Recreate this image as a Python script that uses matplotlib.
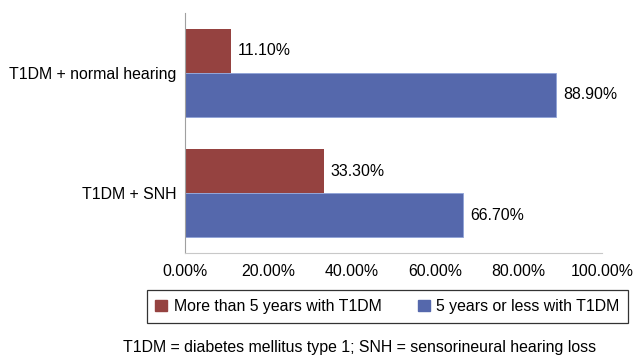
import numpy as np
import matplotlib.pyplot as plt
from matplotlib.patches import Patch

plt.rcParams['font.family'] = ['Liberation Sans', 'DejaVu Sans']

groups = ['T1DM + SNH', 'T1DM + normal hearing']
more_than_5 = [33.3, 11.1]
five_or_less = [66.7, 88.9]
series_names = ['More than 5 years with T1DM', '5 years or less with T1DM']
xticks = [0, 20, 40, 60, 80, 100]

red = '#954240'
blue = '#5568AC'
fs = 11.4

fig = plt.figure(figsize=(6.33, 3.58), dpi=100)
ax = fig.add_axes([0.292, 0.293, 0.659, 0.671])

y = np.arange(len(groups))
h = 0.367
ax.barh(y + h / 2, more_than_5, height=h, color=red)
ax.barh(y - h / 2, five_or_less, height=h, color=blue, edgecolor='#8fa3d8', linewidth=0.6)

for yi, v in zip(y + h / 2, more_than_5):
    ax.text(v + 1.7, yi, '%.2f%%' % v, va='center', ha='left', fontsize=fs)
for yi, v in zip(y - h / 2, five_or_less):
    ax.text(v + 1.7, yi, '%.2f%%' % v, va='center', ha='left', fontsize=fs)

ax.set_xlim(0, 100)
ax.set_ylim(-0.5, 1.5)
ax.set_yticks(y)
ax.set_yticklabels(groups, fontsize=fs)
ax.set_xticks(xticks)
ax.set_xticklabels(['%.2f%%' % t for t in xticks], fontsize=fs)
ax.tick_params(length=0, pad=6)
ax.tick_params(axis='x', pad=8)

for s in ['top', 'right']:
    ax.spines[s].set_visible(False)
ax.spines['left'].set_color('#a0a0a0')
ax.spines['bottom'].set_color('#c8c8c8')

handles = [Patch(color=red), Patch(color=blue)]
leg = fig.legend(handles, series_names, loc='center', bbox_to_anchor=(0.612, 0.144),
                 ncol=2, fontsize=fs, frameon=True, fancybox=False,
                 handlelength=0.75, handleheight=0.75, handletextpad=0.4,
                 columnspacing=2.3, borderpad=0.55)
leg.get_frame().set_edgecolor('black')
leg.get_frame().set_linewidth(0.9)

fig.text(0.568, 0.028, 'T1DM = diabetes mellitus type 1; SNH = sensorineural hearing loss',
         ha='center', va='center', fontsize=fs)

fig.savefig('out.png', dpi=100)
